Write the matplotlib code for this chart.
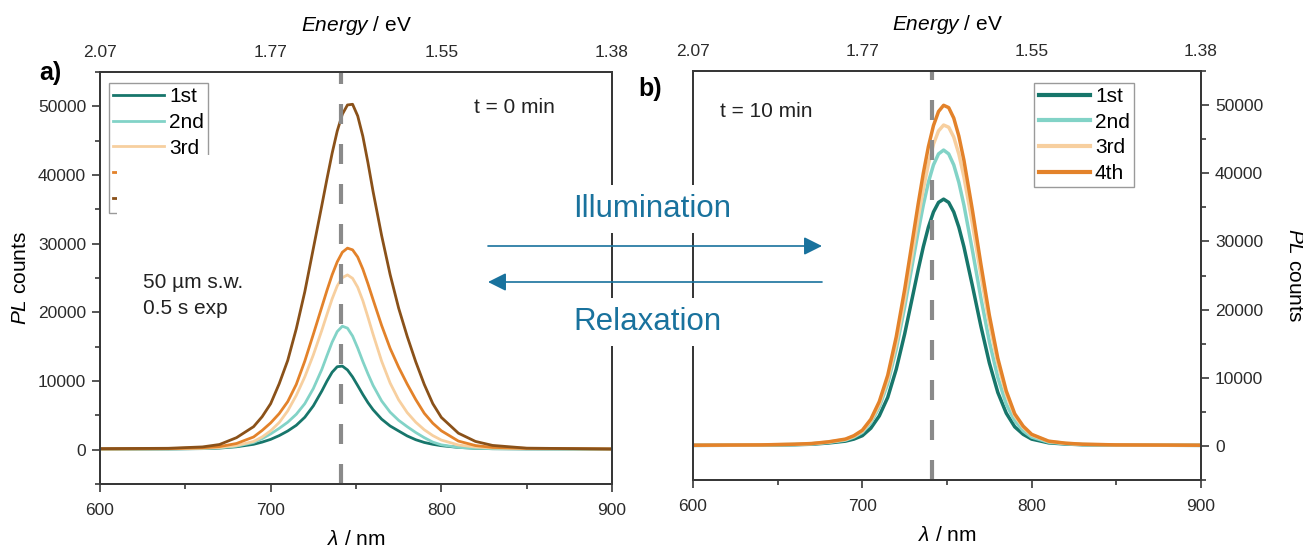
import matplotlib
matplotlib.use("Agg")
import matplotlib.pyplot as plt
from matplotlib.patches import Rectangle, FancyArrowPatch
from matplotlib.ticker import MultipleLocator

plt.rcParams["font.family"] = "Liberation Sans"
plt.rcParams["mathtext.fontset"] = "custom"
plt.rcParams["mathtext.rm"] = "Liberation Sans"
plt.rcParams["mathtext.it"] = "Liberation Sans:italic"

W, H = 1303, 548

# shared wavelength grid (nm), finer around the emission peak
wavelength = [600, 640, 660, 670, 680, 690, 695, 700, 705, 710, 715, 720, 725,
              730, 733, 736, 739, 742, 745, 748, 751, 754, 757, 760,
              765, 770, 775, 780, 785, 790, 795, 800, 810, 820, 830, 850, 900]

# a) t = 0 min, successive spectra
a_1st = [80, 100, 150, 230, 420, 780, 1100, 1500, 2050, 2720, 3550, 4720, 6380,
         8550, 9990, 11270, 12080, 12170, 11610, 10590, 9330, 8040, 6850, 5820,
         4450, 3450, 2720, 2000, 1450, 1050, 780, 580, 330, 200, 140, 110, 80]
a_2nd = [80, 100, 170, 270, 500, 1050, 1600, 2300, 3100, 4000, 5150, 6700, 8900,
         11700, 13700, 15650, 17200, 17980, 17700, 16550, 14800, 12850, 11040, 9360,
         7100, 5460, 4270, 3350, 2500, 1750, 1100, 700, 330, 200, 140, 110, 80]
a_3rd = [100, 130, 200, 330, 600, 1200, 1850, 2750, 3950, 5650, 7900, 10600, 13800,
         17400, 19700, 21950, 23850, 25050, 25450, 24950, 23650, 21700, 19300, 16800,
         12900, 9700, 7250, 5400, 4000, 2900, 2050, 1400, 680, 380, 250, 150, 100]
a_4th = [100, 150, 280, 450, 900, 1850, 2800, 3900, 5250, 7000, 9500, 12900, 16800,
         20800, 23200, 25450, 27350, 28750, 29350, 29100, 28050, 26300, 24150, 21850,
         18100, 14750, 12000, 9550, 7300, 5300, 3850, 2750, 1250, 600, 330, 190, 100]
a_5th = [150, 200, 400, 750, 1750, 3350, 4800, 6700, 9600, 13000, 17600, 23000, 29300,
         35600, 39450, 43150, 46400, 48850, 50200, 50300, 48600, 45650, 41800, 37600,
         31200, 25500, 20600, 16500, 12800, 9500, 6700, 4700, 2400, 1200, 620, 220, 100]

# b) t = 10 min
b_1st = [80, 110, 180, 250, 430, 700, 1000, 1500, 2600, 4400, 7120, 11230, 16430,
         22320, 25870, 29200, 32080, 34310, 35720, 36200, 35720, 34310, 32080, 29200,
         23510, 17580, 12190, 7850, 4800, 2800, 1700, 1000, 450, 280, 180, 120, 80]
b_2nd = [90, 130, 210, 300, 520, 850, 1300, 2000, 3400, 5700, 9150, 14150, 20370,
         27310, 31460, 35330, 38660, 41220, 42840, 43400, 42840, 41220, 38660, 35330,
         28710, 21720, 15310, 10040, 6130, 3700, 2200, 1300, 550, 330, 200, 130, 90]
b_3rd = [94, 141, 236, 330, 565, 942, 1413, 2167, 3674, 6123, 9769, 15053, 21628,
         29023, 33479, 37671, 41344, 44265, 46215, 47072, 46751, 45301, 42814, 39470,
         32593, 25133, 18068, 12124, 7593, 4437, 2732, 1601, 659, 377, 236, 141, 94]
b_4th = [100, 150, 250, 350, 600, 1000, 1500, 2300, 3900, 6500, 10370, 15980, 22960,
         30810, 35540, 39990, 43890, 46990, 49060, 49970, 49630, 48090, 45450, 41900,
         34600, 26680, 19180, 12870, 8060, 4710, 2900, 1700, 700, 400, 250, 150, 100]

labels_a = ["1st", "2nd", "3rd", "4th", "5th"]
labels_b = ["1st", "2nd", "3rd", "4th"]
colors = ["#17766b", "#82d3c7", "#f7cf9f", "#e3822a", "#8a5119"]

ref_line_nm = 741
energy_ticks_nm = [600, 700, 800, 900]
energy_labels = ["2.07", "1.77", "1.55", "1.38"]

axis_col = "#383838"
arrow_col = "#19729d"


def style_axes(ax, side):
    ax.set_xlim(600, 900)
    ax.set_ylim(-5000, 55000)
    ax.xaxis.set_major_locator(MultipleLocator(100))
    ax.xaxis.set_minor_locator(MultipleLocator(50))
    ax.yaxis.set_major_locator(MultipleLocator(10000))
    ax.yaxis.set_minor_locator(MultipleLocator(5000))
    for sp in ax.spines.values():
        sp.set_color(axis_col)
        sp.set_linewidth(1.4)
    ax.tick_params(which="both", direction="out", color=axis_col, width=1.2,
                   labelsize=12.5, labelcolor="#2b2b2b")
    ax.tick_params(which="major", length=6)
    ax.tick_params(which="minor", length=3.5)
    ax.tick_params(axis="x", which="both", top=False, pad=8)
    if side == "left":
        ax.tick_params(axis="y", which="both", left=True, right=False, pad=4)
        ax.set_ylabel(r"$\mathit{PL}$ counts", fontsize=15, labelpad=6)
    else:
        ax.yaxis.tick_right()
        ax.yaxis.set_label_position("right")
        ax.tick_params(axis="y", which="both", left=False, right=True, pad=4)
        ax.set_ylabel(r"$\mathit{PL}$ counts", fontsize=15, rotation=270,
                      va="bottom", labelpad=16)
    ax.set_xlabel(r"$\mathit{\lambda}$ / nm", fontsize=15, labelpad=8)
    ax.axvline(ref_line_nm, color="#8a8a8a", lw=3, dashes=(4.8, 4.8), zorder=4)

    top = ax.twiny()
    top.set_xlim(600, 900)
    top.set_xticks(energy_ticks_nm)
    top.set_xticklabels(energy_labels)
    top.tick_params(axis="x", length=0, pad=9, labelsize=12.5, labelcolor="#2b2b2b")
    top.set_xlabel(r"$\mathit{Energy}$ / eV", fontsize=15, labelpad=10)
    for sp in top.spines.values():
        sp.set_color(axis_col)
        sp.set_linewidth(1.4)
    return top


fig = plt.figure(figsize=(W / 100, H / 100), dpi=100)
ax_a = fig.add_axes([100 / W, 1 - 484 / H, 512 / W, 412 / H])
ax_b = fig.add_axes([693 / W, 1 - 480 / H, 508 / W, 409 / H])

for ys, lab, col in zip([a_1st, a_2nd, a_3rd, a_4th, a_5th], labels_a, colors):
    ax_a.plot(wavelength, ys, color=col, lw=2.0, label=lab, solid_joinstyle="round")
for ys, lab, col in zip([b_1st, b_2nd, b_3rd, b_4th], labels_b, colors):
    ax_b.plot(wavelength, ys, color=col, lw=2.5, label=lab, solid_joinstyle="round")

style_axes(ax_a, "left")
style_axes(ax_b, "right")

leg_kw = dict(fontsize=15, frameon=True, fancybox=False, framealpha=1, borderaxespad=0,
              handlelength=2.45, handletextpad=0.25, labelspacing=0.32, borderpad=0.2)
leg_a = ax_a.legend(loc="upper left", bbox_to_anchor=(0.0176, 0.973), **leg_kw)
leg_a.get_frame().set_edgecolor("#9a9a9a")
leg_a.get_frame().set_linewidth(1.0)
# blank block over the lower part of the legend
ax_a.add_patch(Rectangle((0.033, 0.60), 0.2, 0.199, transform=ax_a.transAxes,
                         facecolor="white", edgecolor="none", zorder=10, clip_on=False))

leg_b = ax_b.legend(loc="upper right", bbox_to_anchor=(0.868, 0.971), **leg_kw)
leg_b.get_frame().set_edgecolor("#9a9a9a")
leg_b.get_frame().set_linewidth(1.0)
for line in leg_b.get_lines():
    line.set_linewidth(3.0)

ax_a.text(0.730, 0.913, "t = 0 min", transform=ax_a.transAxes, fontsize=15,
          va="center", color="#222222")
ax_b.text(0.053, 0.900, "t = 10 min", transform=ax_b.transAxes, fontsize=15,
          va="center", color="#222222")
ax_a.text(0.084, 0.490, "50 µm s.w.", transform=ax_a.transAxes, fontsize=15,
          va="center", color="#222222")
ax_a.text(0.084, 0.427, "0.5 s exp", transform=ax_a.transAxes, fontsize=15,
          va="center", color="#222222")

fig.text(50 / W, 1 - 73 / H, "a)", fontsize=18, fontweight="bold", ha="center", va="center")
fig.text(650 / W, 1 - 89 / H, "b)", fontsize=18, fontweight="bold", ha="center", va="center")

# illumination / relaxation annotation between the panels
box = dict(boxstyle="square,pad=0.3", facecolor="white", edgecolor="none")
fig.text(652 / W, 1 - 209 / H, "Illumination", fontsize=22.5, color=arrow_col,
         ha="center", va="center", bbox=box, zorder=4)
fig.text(647 / W, 1 - 322 / H, "Relaxation", fontsize=22.5, color=arrow_col,
         ha="center", va="center", bbox=box, zorder=4)
for y0, start, end in [(246, 488, 822), (282, 822, 488)]:
    fig.add_artist(FancyArrowPatch((start / W, 1 - y0 / H), (end / W, 1 - y0 / H),
                                   transform=fig.transFigure,
                                   arrowstyle="-|>,head_length=1.0,head_width=0.5",
                                   mutation_scale=11, color=arrow_col, lw=1.2,
                                   shrinkA=0, shrinkB=0, zorder=5))

fig.savefig("out.png", dpi=100)
